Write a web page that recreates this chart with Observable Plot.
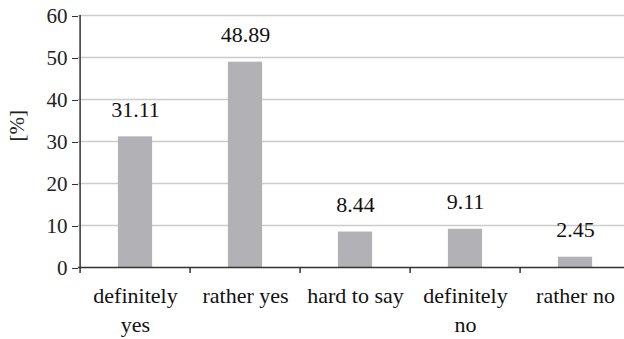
<!DOCTYPE html>
<html>
<head>
<meta charset="utf-8">
<script src="https://cdn.jsdelivr.net/npm/d3@7"></script>
<script src="https://cdn.jsdelivr.net/npm/@observablehq/plot@0.6"></script>
<style>
  html, body { margin: 0; padding: 0; background: #fff; overflow: hidden; }
</style>
</head>
<body>
<div id="chart"></div>
<script>
const categories = ["definitely yes", "rather yes", "hard to say", "definitely no", "rather no"];
const categoryLabels = ["definitely\nyes", "rather yes", "hard to say", "definitely\nno", "rather no"];
const values = [31.11, 48.89, 8.44, 9.11, 2.45];
const valueLabels = ["31.11", "48.89", "8.44", "9.11", "2.45"];
const yTicks = [0, 10, 20, 30, 40, 50, 60];
const yLabel = "[%]";

const data = categories.map((c, i) => ({cat: c, value: values[i], label: valueLabels[i], catLabel: categoryLabels[i]}));

const W = 624, H = 339;
const mL = 78, mR = -8, mT = 15, mB = 72;
const step = (W - mR - mL) / categories.length;
const serifFont = "Times New Roman, serif";

const chart = Plot.plot({
  width: W,
  height: H,
  marginLeft: mL,
  marginRight: mR,
  marginTop: mT,
  marginBottom: mB,
  x: {domain: categories, padding: 0, axis: null},
  y: {domain: [0, 60], axis: null},
  marks: [
    Plot.ruleY(yTicks.filter(d => d > 0), {stroke: "#cccccc", strokeWidth: 1.5}),
    Plot.barY(data, {x: "cat", y: "value", fill: "#b2b2b6", insetLeft: (step - 35) / 2, insetRight: (step - 35) / 2}),
    Plot.axisY({ticks: yTicks, tickSize: 6, tickPadding: 5, fontSize: 21, fontFamily: serifFont, stroke: "#333", fill: "#222", label: null, dy: 1}),
    Plot.ruleY([0], {stroke: "#333", strokeWidth: 1.5}),
    Plot.ruleX([0], {x: () => categories[0], dx: -step / 2, y1: 0, y2: 60, stroke: "#333", strokeWidth: 1.5}),
    Plot.ruleX(categories, {x: d => d, dx: -step / 2, y1: 0, y2: -6 / 4.2, stroke: "#333", strokeWidth: 1.5}),
    Plot.text(data, {x: "cat", y: "value", text: "label", dy: -20, lineAnchor: "bottom", fontSize: 22, fontFamily: serifFont, fill: "#111"}),
    Plot.text(data, {x: "cat", y: 0, text: "catLabel", lineAnchor: "top", lineHeight: 1.36, dy: 13.8, fontSize: 22, fontFamily: serifFont, fill: "#111"}),
    Plot.text([yLabel], {frameAnchor: "left", rotate: -90, dx: -61, fontSize: 21, fontFamily: serifFont, fill: "#222"})
  ]
});
document.getElementById("chart").appendChild(chart);
</script>
</body>
</html>
